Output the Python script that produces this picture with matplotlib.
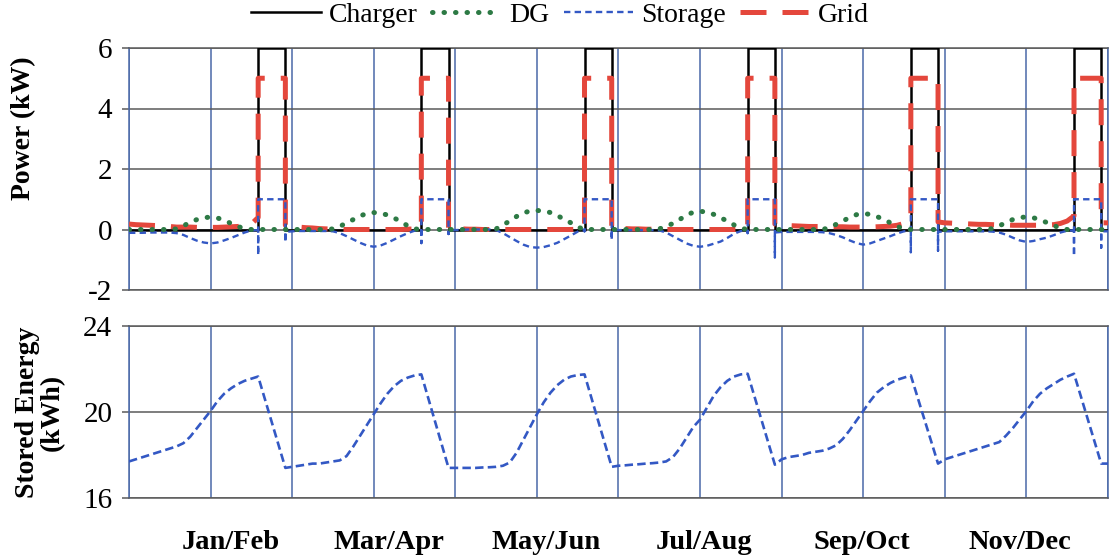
import numpy as np
import matplotlib
matplotlib.use('Agg')
import matplotlib.pyplot as plt

plt.rcParams['font.family'] = ['Liberation Serif', 'DejaVu Serif']
plt.rcParams['axes.unicode_minus'] = False

periods = ['Jan/Feb', 'Mar/Apr', 'May/Jun', 'Jul/Aug', 'Sep/Oct', 'Nov/Dec']

# hour of day for each sample of the power profiles (19..23 is the charging window)
hours_power = list(range(19)) + [19, 19, 19, 23, 23, 23]
# hour of day for each sample of the stored energy
hours_energy = list(range(20)) + [23]

charger_day = [0] * 19 + [0, 6, 6, 6, 0, 0]

dg = [
    [0, 0, 0, 0, 0, 0, 0, 0.02, 0.12, 0.24, 0.33, 0.39, 0.41, 0.38, 0.31, 0.2, 0.1, 0.03, 0, 0, 0, 0, 0, 0, 0],
    [0, 0, 0, 0, 0, 0, 0.02, 0.1, 0.22, 0.33, 0.45, 0.53, 0.56, 0.54, 0.48, 0.38, 0.26, 0.12, 0.02, 0, 0, 0, 0, 0, 0],
    [0, 0, 0, 0, 0, 0, 0.02, 0.15, 0.28, 0.43, 0.55, 0.61, 0.63, 0.61, 0.56, 0.46, 0.34, 0.22, 0.08, 0, 0, 0, 0, 0, 0],
    [0, 0, 0, 0, 0, 0, 0.02, 0.1, 0.2, 0.33, 0.48, 0.57, 0.6, 0.58, 0.5, 0.39, 0.28, 0.15, 0.04, 0, 0, 0, 0, 0, 0],
    [0, 0, 0, 0, 0, 0, 0, 0.06, 0.17, 0.28, 0.4, 0.49, 0.53, 0.5, 0.43, 0.33, 0.22, 0.1, 0.02, 0, 0, 0, 0, 0, 0],
    [0, 0, 0, 0, 0, 0, 0, 0.03, 0.12, 0.23, 0.33, 0.39, 0.42, 0.39, 0.32, 0.23, 0.13, 0.05, 0, 0, 0, 0, 0, 0, 0],
]

storage = [
    [-0.11, -0.11, -0.11, -0.1, -0.1, -0.1, -0.1, -0.12, -0.18, -0.28, -0.37, -0.43, -0.46, -0.43, -0.36, -0.28, -0.19, -0.1, -0.03,
     -0.02, -0.85, 1.0, 1.0, -0.42, -0.08],
    [-0.06, -0.05, -0.05, -0.05, -0.05, -0.05, -0.06, -0.12, -0.22, -0.33, -0.44, -0.53, -0.57, -0.53, -0.44, -0.33, -0.22, -0.12, -0.04,
     -0.03, -0.45, 1.0, 1.0, -0.15, -0.02],
    [-0.02, -0.01, 0, 0, 0, 0, -0.02, -0.12, -0.25, -0.38, -0.5, -0.58, -0.6, -0.58, -0.52, -0.44, -0.32, -0.2, -0.07,
     -0.02, -0.06, 1.0, 1.0, -0.35, -0.02],
    [-0.02, -0.02, -0.02, -0.02, -0.02, -0.02, -0.03, -0.1, -0.22, -0.34, -0.46, -0.54, -0.57, -0.54, -0.47, -0.4, -0.28, -0.14, -0.05,
     -0.03, -0.12, 1.0, 1.0, -0.92, -0.1],
    [-0.08, -0.08, -0.08, -0.08, -0.08, -0.08, -0.09, -0.12, -0.18, -0.26, -0.36, -0.45, -0.5, -0.46, -0.38, -0.3, -0.22, -0.13, -0.06,
     -0.05, -0.75, 1.0, 1.0, -0.7, -0.08],
    [-0.06, -0.06, -0.06, -0.06, -0.06, -0.06, -0.06, -0.07, -0.1, -0.17, -0.27, -0.36, -0.41, -0.38, -0.32, -0.27, -0.19, -0.1, -0.04,
     -0.03, -0.88, 1.0, 1.0, -0.6, -0.06],
]

grid = [
    [0.18, 0.16, 0.15, 0.14, 0.13, 0.12, 0.1, 0.08, 0.08, 0.08, 0.07, 0.07, 0.07, 0.07, 0.08, 0.09, 0.1, 0.12, 0.18,
     0.4, 5, 5, 5, 0.2, 0.14],
    [0.1, 0.08, 0.06, 0.05, 0.03, 0.02, 0.01, 0, 0, 0, 0, 0, 0, 0, 0, 0, 0, 0.01, 0.02,
     0.06, 5, 5, 5, 0.05, 0.02],
    [0.02, 0.02, 0.01, 0.01, 0, 0, 0, 0, 0, 0, 0, 0, 0, 0, 0, 0, 0, 0, 0.01,
     0.04, 5, 5, 5, 0.06, 0.05],
    [0.04, 0.03, 0.02, 0.02, 0.01, 0.01, 0, 0, 0, 0, 0, 0, 0, 0, 0, 0, 0, 0, 0.01,
     0.05, 5, 5, 5, 0.35, 0.18],
    [0.14, 0.13, 0.12, 0.11, 0.1, 0.1, 0.1, 0.09, 0.09, 0.09, 0.08, 0.08, 0.08, 0.08, 0.09, 0.1, 0.11, 0.14, 0.2,
     0.4, 5, 5, 5, 0.3, 0.25],
    [0.22, 0.21, 0.2, 0.19, 0.18, 0.17, 0.17, 0.16, 0.15, 0.15, 0.14, 0.14, 0.14, 0.14, 0.14, 0.15, 0.16, 0.2, 0.28,
     0.45, 5, 5, 5, 0.25, 0.22],
]

stored = [
    [17.7, 17.8, 17.9, 18.0, 18.1, 18.2, 18.3, 18.4, 18.55, 18.85, 19.25, 19.65, 20.05, 20.5, 20.85, 21.1, 21.3, 21.45, 21.55, 21.65, 17.4],
    [17.45, 17.5, 17.55, 17.6, 17.6, 17.65, 17.7, 17.75, 17.95, 18.4, 18.9, 19.4, 19.9, 20.4, 20.85, 21.2, 21.45, 21.6, 21.7, 21.75, 17.4],
    [17.4, 17.4, 17.4, 17.4, 17.42, 17.43, 17.45, 17.5, 17.65, 18.1, 18.7, 19.3, 19.9, 20.45, 20.9, 21.25, 21.5, 21.65, 21.72, 21.75, 17.45],
    [17.5, 17.52, 17.55, 17.57, 17.6, 17.62, 17.65, 17.7, 17.9, 18.3, 18.8, 19.3, 19.65, 20.2, 20.75, 21.15, 21.45, 21.65, 21.75, 21.78, 17.55],
    [17.8, 17.9, 17.95, 18.0, 18.1, 18.15, 18.2, 18.3, 18.45, 18.75, 19.15, 19.6, 20.05, 20.5, 20.9, 21.15, 21.35, 21.5, 21.6, 21.7, 17.6],
    [17.8, 17.9, 18.0, 18.1, 18.2, 18.3, 18.4, 18.5, 18.6, 18.9, 19.25, 19.65, 20.05, 20.5, 20.85, 21.1, 21.3, 21.5, 21.65, 21.78, 17.6],
]

BLUE_GRID = '#4a68a8'
GRAY_GRID = '#5a5a5a'
n_days = len(periods)
x_end = 24 * n_days


def stitch(hours, rows):
    # lay the daily profiles end to end and hold the last value to the end of the axis
    x = np.concatenate([24 * d + np.asarray(hours, float) for d in range(len(rows))])
    y = np.concatenate([np.asarray(r, float) for r in rows])
    return np.append(x, x_end), np.append(y, y[-1])


def style_axes(ax, yticks):
    ax.set_xlim(0, x_end)
    ax.set_ylim(yticks[0], yticks[-1])
    ax.set_yticks(yticks)
    ax.set_yticklabels([str(t) for t in yticks], fontsize=21)
    ax.set_xticks(np.arange(0, x_end + 1, 12), minor=True)
    ax.grid(True, which='minor', axis='x', color=BLUE_GRID, lw=1.1)
    ax.grid(True, which='major', axis='y', color=GRAY_GRID, lw=1.1)
    ax.tick_params(axis='y', length=5, width=1.1, color=GRAY_GRID, pad=7)
    ax.tick_params(axis='x', which='both', length=0)
    for side in ('left', 'right'):
        ax.spines[side].set_color(BLUE_GRID)
        ax.spines[side].set_linewidth(1.1)
    for side in ('top', 'bottom'):
        ax.spines[side].set_color(GRAY_GRID)
        ax.spines[side].set_linewidth(1.1)
    ax.set_axisbelow(True)


fig = plt.figure(figsize=(11.09, 5.57), dpi=100)
ax1 = fig.add_axes([129 / 1109, 1 - 290 / 557, 979 / 1109, 242 / 557])
ax2 = fig.add_axes([129 / 1109, 1 - 498 / 557, 979 / 1109, 172 / 557])

xc, yc = stitch(hours_power, [charger_day] * n_days)
xd, yd = stitch(hours_power, dg)
xs, ys = stitch(hours_power, storage)
xg, yg = stitch(hours_power, grid)
xe, ye = stitch(hours_energy, stored)

l_ch, = ax1.plot(xc, yc, color='black', lw=1.8, label='Charger', zorder=3)
l_gr, = ax1.plot(xg, yg, color='#e4473c', lw=3.6, ls=(0, (5.2, 3.2)), label='Grid', zorder=4)
l_st, = ax1.plot(xs, ys, color='#3358c4', lw=1.7, ls=(0, (2.7, 1.8)), label='Storage', zorder=5)
l_dg, = ax1.plot(xd, yd, color='#2d7a45', lw=3.6, ls=(0, (0.1, 2.2)), dash_capstyle='round',
                 label='DG', zorder=6)
style_axes(ax1, [-2, 0, 2, 4, 6])
ax1.set_xticks([])

ax2.plot(xe, ye, color='#3358c4', lw=1.9, ls=(0, (3.2, 1.6)), zorder=3)
style_axes(ax2, [16, 20, 24])
# period names sit a little left of each day's centre, evenly spaced
ax2.set_xticks([15 + 23.2 * d for d in range(n_days)])
ax2.set_xticklabels(periods, fontsize=20.5, fontweight='bold')
ax2.tick_params(axis='x', which='major', length=0, pad=23)

fig.text(24 / 1109, 1 - 128 / 557, 'Power (kW)', rotation=90, ha='center', va='center',
         fontsize=20, fontweight='bold')
fig.text(40 / 1109, 1 - 412 / 557, 'Stored Energy\n(kWh)', rotation=90, ha='center', va='center',
         fontsize=20, fontweight='bold', multialignment='center', linespacing=1.0)

fig.legend([l_ch, l_dg, l_st, l_gr], ['Charger', 'DG', 'Storage', 'Grid'], loc='center',
           bbox_to_anchor=(560 / 1109, 1 - 15 / 557), ncol=4, frameon=False, fontsize=20,
           handlelength=2.5, handletextpad=0.3, columnspacing=0.5, borderpad=0)

fig.savefig('out.png', dpi=100)
